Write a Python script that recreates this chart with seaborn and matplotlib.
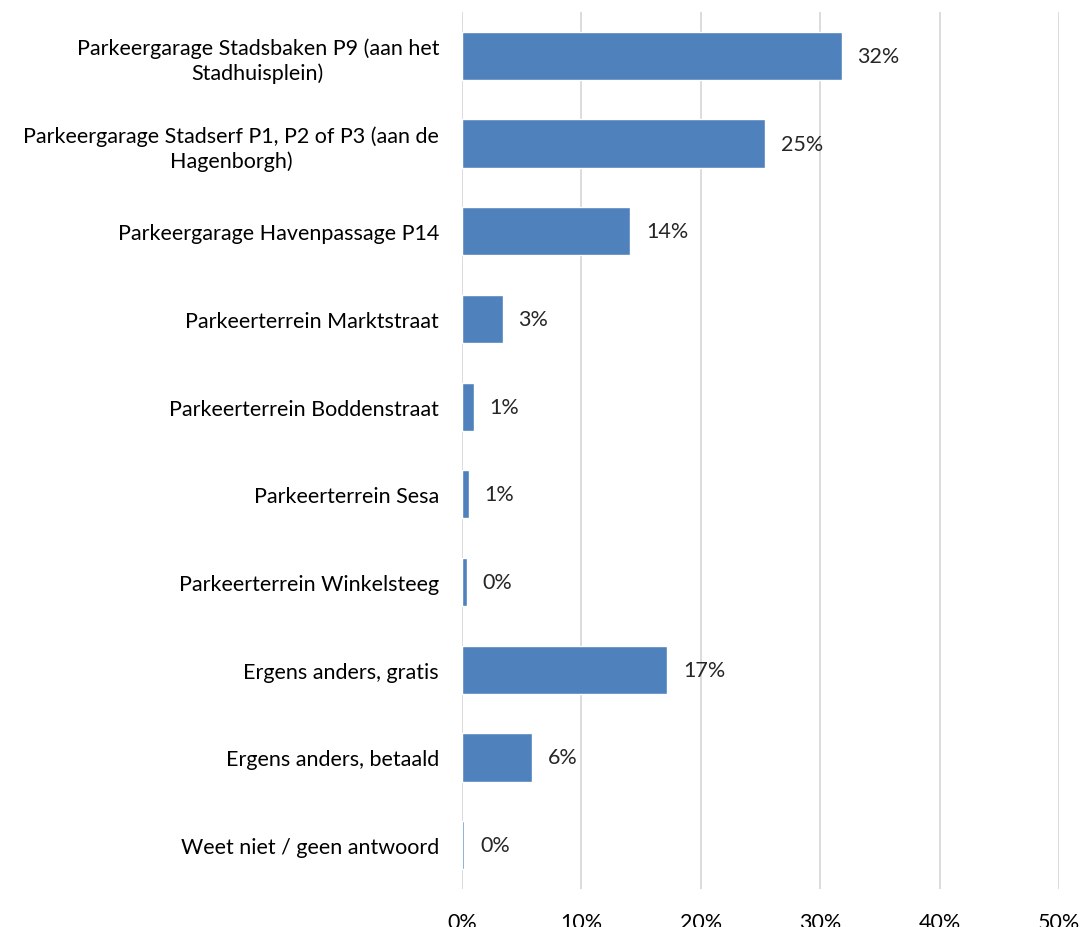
import matplotlib
matplotlib.use('Agg')
import matplotlib.pyplot as plt
from matplotlib.ticker import PercentFormatter
import seaborn as sns
import pandas as pd

categories = [
    'Parkeergarage Stadsbaken P9 (aan het\nStadhuisplein)',
    'Parkeergarage Stadserf P1, P2 of P3 (aan de\nHagenborgh)',
    'Parkeergarage Havenpassage P14',
    'Parkeerterrein Marktstraat',
    'Parkeerterrein Boddenstraat',
    'Parkeerterrein Sesa',
    'Parkeerterrein Winkelsteeg',
    'Ergens anders, gratis',
    'Ergens anders, betaald',
    'Weet niet / geen antwoord',
]
shares = [31.8, 25.4, 14.1, 3.4, 1.0, 0.6, 0.4, 17.2, 5.9, 0.2]
x_ticks = [0, 10, 20, 30, 40, 50]

sns.set_style('white')
plt.rcParams['font.family'] = ['Lato', 'DejaVu Sans']
plt.rcParams['font.size'] = 15.5

df = pd.DataFrame({'Categorie': categories, 'Aandeel': shares})

fig = plt.figure(figsize=(10.82, 9.28), dpi=100)
ax = fig.add_axes([0.427, 0.041, 0.552, 0.945])
sns.barplot(data=df, x='Aandeel', y='Categorie', color='#4F81BD',
            width=0.55, saturation=1, ax=ax, zorder=3)

ax.set_xlim(0, 50)
ax.set_xticks(x_ticks)
ax.xaxis.set_major_formatter(PercentFormatter(decimals=0))
ax.grid(axis='x', color='#D9D9D9', linewidth=1.3, zorder=0)
ax.grid(axis='y', visible=False)
for s in ax.spines.values():
    s.set_visible(False)
ax.tick_params(axis='both', length=0, labelsize=15.5, colors='black')
ax.tick_params(axis='y', pad=16.5)
ax.tick_params(axis='x', pad=16.5)
for lbl in ax.get_yticklabels():
    lbl.set_multialignment('center')
    lbl.set_linespacing(1.3)
ax.set_xlabel('')
ax.set_ylabel('')

for p, v in zip(ax.patches, shares):
    ax.text(p.get_width() + 1.3, p.get_y() + p.get_height() / 2,
            '{:.0f}%'.format(v), va='center', ha='left', fontsize=15.5)

plt.savefig('out.png', dpi=100)
plt.close()
